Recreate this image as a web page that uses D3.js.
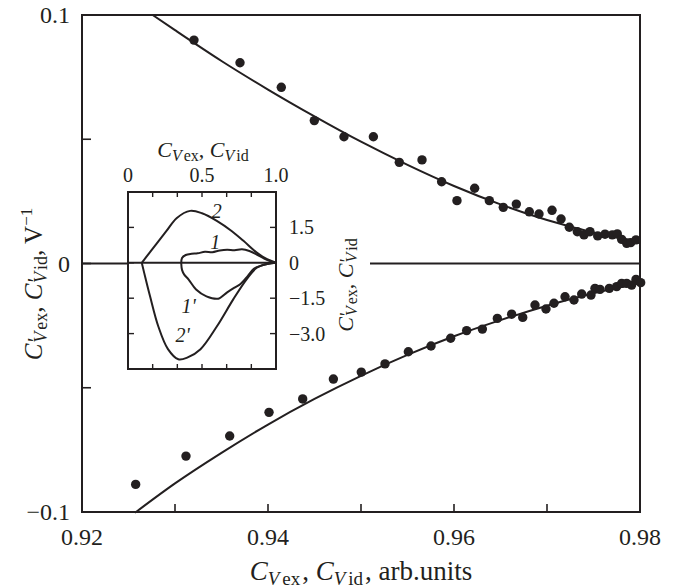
<!DOCTYPE html>
<html><head><meta charset="utf-8">
<script src="https://cdn.jsdelivr.net/npm/d3@7"></script>
<style>body{margin:0;background:#fff}svg{display:block}text{font-family:"Liberation Serif","Times New Roman",serif;fill:#231f20}</style>
</head><body><svg id="c" width="675" height="588"></svg>
<script>
// ---- data ----
const upperX = [0.93204,0.93699,0.94143,0.94498,0.94817,0.95133,0.95412,0.95656,0.95867,0.96032,0.96222,0.96380,0.96530,0.96670,0.96810,0.96914,0.97054,0.97151,0.97240,0.97326,0.97398,0.97462,0.97545,0.97624,0.97702,0.97756,0.97803,0.97857,0.97900,0.97957];
const upperY = [0.0899,0.0808,0.0709,0.0575,0.0510,0.0510,0.0407,0.0417,0.0329,0.0253,0.0303,0.0253,0.0226,0.0239,0.0208,0.0199,0.0214,0.0179,0.0146,0.0128,0.0115,0.0128,0.0111,0.0118,0.0115,0.0119,0.0097,0.0081,0.0084,0.0095];
const lowerX = [0.92577,0.93118,0.93588,0.94011,0.94373,0.94703,0.95003,0.95258,0.95509,0.95753,0.95964,0.96136,0.96305,0.96466,0.96620,0.96739,0.96871,0.96989,0.97075,0.97194,0.97290,0.97373,0.97473,0.97516,0.97570,0.97670,0.97749,0.97803,0.97857,0.97910,0.97957,0.98007];
const lowerY = [-0.0889,-0.0775,-0.0694,-0.0599,-0.0545,-0.0465,-0.0437,-0.0404,-0.0355,-0.0332,-0.0301,-0.0270,-0.0264,-0.0221,-0.0204,-0.0217,-0.0167,-0.0183,-0.0160,-0.0134,-0.0147,-0.0123,-0.0127,-0.0100,-0.0104,-0.0100,-0.0093,-0.0080,-0.0080,-0.0087,-0.0064,-0.0077];
const fitUpX = [0.9276,0.930,0.935,0.940,0.945,0.950,0.955,0.960,0.965,0.970,0.975,0.980];
const fitUpY = [0.100,0.0939,0.0815,0.0700,0.0592,0.0490,0.0397,0.0312,0.0238,0.0175,0.0125,0.0088];
const fitLoX = [0.9257,0.930,0.935,0.940,0.945,0.950,0.955,0.960,0.965,0.970,0.975,0.980];
const fitLoY = [-0.1003,-0.0885,-0.0762,-0.0648,-0.0545,-0.0452,-0.0368,-0.0293,-0.0228,-0.0170,-0.0120,-0.0080];
const xTicks = [0.92,0.93,0.94,0.95,0.96,0.97,0.98];
const xTickLabels = ["0.92","0.94","0.96","0.98"];
const yTicks = [-0.1,-0.05,0,0.05,0.1];
const yTickLabels = ["\u22120.1","0","0.1"];
// inset
const c2X = [0.093,0.15,0.2,0.26,0.33,0.42,0.5,0.6,0.7,0.78,0.87,0.94,1.0];
const c2Y = [0,0.46,0.87,1.35,1.9,2.2,2.1,1.78,1.35,0.93,0.43,0.15,0];
const c2pX = [0.093,0.12,0.149,0.205,0.27,0.34,0.4,0.49,0.6,0.71,0.8,0.87,0.94,1.0];
const c2pY = [0,-0.7,-1.42,-2.7,-3.66,-4.09,-4.02,-3.66,-2.7,-1.56,-0.71,-0.21,-0.05,0];
const c1X = [0.36,0.365,0.39,0.43,0.47,0.52,0.57,0.62,0.67,0.72,0.77,0.82,0.87,0.92,0.96,1.0];
const c1Y = [-0.05,0.2,0.33,0.38,0.4,0.47,0.45,0.52,0.55,0.53,0.57,0.5,0.35,0.18,0.07,0];
const c1pX = [0.36,0.365,0.38,0.41,0.46,0.53,0.61,0.67,0.72,0.76,0.81,0.85,0.9,0.95,1.0];
const c1pY = [-0.05,-0.3,-0.5,-0.71,-1.13,-1.42,-1.52,-1.25,-1.05,-0.9,-0.55,-0.25,-0.12,-0.04,0];
const insetXTicks = [0,1/6,2/6,3/6,4/6,5/6,1];
const insetXLabels = [[0,"0"],[0.5,"0.5"],[1,"1.0"]];
const insetYTicks = [1.5,0,-1.5,-3.0];
const insetYLabels = ["1.5","0","\u22121.5","\u22123.0"];
const insetCurveLabels = [["2",0.6,2.2],["1",0.59,0.9],["1'",0.41,-1.85],["2'",0.37,-3.05]];

// ---- drawing ----
const ink = "#231f20";
const svg = d3.select("#c");
const x = d3.scaleLinear().domain([0.92,0.98]).range([82,640]);
const y = d3.scaleLinear().domain([-0.1,0.1]).range([512,15]);

function rich(sel, parts){
  parts.forEach(p=>{
    const t = sel.append("tspan").text(p.t).attr("font-size",p.s||22);
    if(p.i) t.attr("font-style","italic");
    if(p.dy) t.attr("dy",p.dy);
    if(p.dx) t.attr("dx",p.dx);
  });
  return sel;
}

// main frame
svg.append("rect").attr("x",x(0.92)).attr("y",y(0.1)).attr("width",x(0.98)-x(0.92)).attr("height",y(-0.1)-y(0.1))
  .attr("fill","none").attr("stroke",ink).attr("stroke-width",2);
svg.append("g").selectAll("line").data(xTicks.slice(1,-1)).join("line")
  .attr("x1",d=>x(d)).attr("x2",d=>x(d)).attr("y1",y(-0.1)).attr("y2",y(-0.1)-8).attr("stroke",ink).attr("stroke-width",1.6);
svg.append("g").selectAll("line").data(yTicks.slice(1,-1)).join("line")
  .attr("x1",x(0.92)).attr("x2",x(0.92)+9).attr("y1",d=>y(d)).attr("y2",d=>y(d)).attr("stroke",ink).attr("stroke-width",1.6);
svg.append("line").attr("x1",x(0.92)).attr("x2",x(0.98)).attr("y1",y(0)).attr("y2",y(0)).attr("stroke",ink).attr("stroke-width",2);
svg.append("g").selectAll("text").data(xTickLabels).join("text")
  .attr("x",d=>x(+d)).attr("y",545).attr("text-anchor","middle").attr("font-size",24).text(d=>d);
svg.append("g").selectAll("text").data(yTickLabels).join("text")
  .attr("x",70).attr("y",d=>y(+d.replace("\u2212","-"))).attr("dy","0.35em").attr("text-anchor","end").attr("font-size",24).text(d=>d);
rich(svg.append("text").attr("x",361).attr("y",580).attr("text-anchor","middle"),[
  {t:"C",i:1,s:27},{t:"V",i:1,s:19,dy:5},{t:"ex",s:19,dx:3},{t:", ",s:27,dy:-5,dx:2},
  {t:"C",i:1,s:27},{t:"V",i:1,s:19,dy:5},{t:"id",s:19,dx:3},{t:", arb.units",s:27,dy:-5,dx:2}]);
rich(svg.append("text").attr("transform","translate(42,284) rotate(-90)").attr("text-anchor","middle"),[
  {t:"C",i:1,s:25},{t:"'",i:1,s:22},{t:"V",i:1,s:18,dy:5,dx:-4},{t:"ex",s:18,dx:2},{t:",  ",s:25,dy:-5},
  {t:"C",i:1,s:25},{t:"'",i:1,s:22},{t:"V",i:1,s:18,dy:5,dx:-4},{t:"id",s:18,dx:2},{t:", V",s:25,dy:-5},{t:"\u22121",s:17,dy:-10}]);

// ---- inset ----
const ix = d3.scaleLinear().domain([0,1]).range([128,276]);
const iy = d3.scaleLinear().domain([-4.5,3.0]).range([369,192]);
const gi = svg.append("g");
gi.append("rect").attr("x",ix(0)).attr("y",iy(3)).attr("width",370-ix(0)).attr("height",iy(-4.5)-iy(3)).attr("fill","#fff");
gi.append("line").attr("x1",ix(0)).attr("x2",ix(1)).attr("y1",iy(0)).attr("y2",iy(0)).attr("stroke",ink).attr("stroke-width",2);
gi.append("rect").attr("x",ix(0)).attr("y",iy(3)).attr("width",ix(1)-ix(0)).attr("height",iy(-4.5)-iy(3))
  .attr("fill","none").attr("stroke",ink).attr("stroke-width",2);
gi.append("g").selectAll("line").data(insetXTicks.slice(1,-1)).join("line")
  .attr("x1",d=>ix(d)).attr("x2",d=>ix(d)).attr("y1",iy(3)).attr("y2",iy(3)+5).attr("stroke",ink).attr("stroke-width",1.4);
gi.append("g").selectAll("line").data(insetXTicks.slice(1,-1)).join("line")
  .attr("x1",d=>ix(d)).attr("x2",d=>ix(d)).attr("y1",iy(-4.5)).attr("y2",iy(-4.5)-5).attr("stroke",ink).attr("stroke-width",1.4);
gi.append("g").selectAll("line").data(insetYTicks).join("line")
  .attr("x1",ix(1)).attr("x2",ix(1)-6).attr("y1",d=>iy(d)).attr("y2",d=>iy(d)).attr("stroke",ink).attr("stroke-width",1.4);
gi.append("g").selectAll("line").data(insetYTicks).join("line")
  .attr("x1",ix(0)).attr("x2",ix(0)+6).attr("y1",d=>iy(d)).attr("y2",d=>iy(d)).attr("stroke",ink).attr("stroke-width",1.4);
gi.append("g").selectAll("text").data(insetXLabels).join("text")
  .attr("x",d=>ix(d[0])).attr("y",182).attr("text-anchor","middle").attr("font-size",20).text(d=>d[1]);
gi.append("g").selectAll("text").data(insetYTicks).join("text")
  .attr("x",289).attr("y",d=>iy(d)).attr("dy","0.35em").attr("font-size",20).text((d,i)=>insetYLabels[i]);
rich(gi.append("text").attr("x",203).attr("y",157).attr("text-anchor","middle"),[
  {t:"C",i:1,s:22},{t:"V",i:1,s:16,dy:4},{t:"ex",s:16,dx:2},{t:", ",s:22,dy:-4},
  {t:"C",i:1,s:22},{t:"V",i:1,s:16,dy:4},{t:"id",s:16,dx:2}]);
rich(gi.append("text").attr("transform","translate(353,285) rotate(-90)").attr("text-anchor","middle"),[
  {t:"C",i:1,s:22},{t:"'",i:1,s:19},{t:"V",i:1,s:16,dy:4,dx:-3},{t:"ex",s:16,dx:2},{t:",  ",s:22,dy:-4},
  {t:"C",i:1,s:22},{t:"'",i:1,s:19},{t:"V",i:1,s:16,dy:4,dx:-3},{t:"id",s:16,dx:2}]);
const iline = d3.line().x(d=>ix(d[0])).y(d=>iy(d[1])).curve(d3.curveCatmullRom.alpha(0.5));
[[c2X,c2Y],[c2pX,c2pY],[c1X,c1Y],[c1pX,c1pY]].forEach(([xs,ys])=>{
  gi.append("path").attr("d",iline(xs.map((v,i)=>[v,ys[i]]))).attr("fill","none").attr("stroke",ink).attr("stroke-width",2);
});
gi.append("g").selectAll("text").data(insetCurveLabels).join("text")
  .attr("x",d=>ix(d[1])).attr("y",d=>iy(d[2])).attr("dy","0.35em").attr("text-anchor","middle")
  .attr("font-size",20).attr("font-style","italic").text(d=>d[0]);

// ---- main fits and points ----
const mline = d3.line().x(d=>x(d[0])).y(d=>y(d[1])).curve(d3.curveMonotoneX);
[[fitUpX,fitUpY],[fitLoX,fitLoY]].forEach(([xs,ys])=>{
  svg.append("path").attr("d",mline(xs.map((v,i)=>[v,ys[i]]))).attr("fill","none").attr("stroke",ink).attr("stroke-width",2);
});
svg.append("g").selectAll("circle").data(upperX.map((v,i)=>[v,upperY[i]]).concat(lowerX.map((v,i)=>[v,lowerY[i]]))).join("circle")
  .attr("cx",d=>x(d[0])).attr("cy",d=>y(d[1])).attr("r",4.7).attr("fill",ink);
</script></body></html>
